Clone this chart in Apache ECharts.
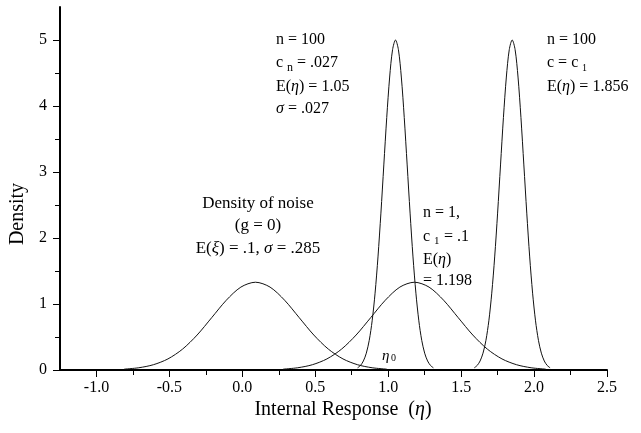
<!DOCTYPE html>
<html>
<head>
<meta charset="utf-8">
<script src="https://cdn.jsdelivr.net/npm/echarts@6/dist/echarts.min.js"></script>
<style>html,body{margin:0;padding:0;background:#fff}#c{width:641px;height:433px}</style>
</head>
<body>
<div id="c"></div>
<script>
// ---- data ----
var noiseX = [-0.81,-0.71,-0.61,-0.51,-0.41,-0.31,-0.21,-0.11,-0.01,0.09,0.19,0.29,0.39,0.49,0.59,0.69,0.79,0.89,0.99];
var noiseY = [0.013,0.034,0.080,0.168,0.316,0.530,0.793,1.057,1.256,1.33,1.256,1.057,0.793,0.530,0.316,0.168,0.080,0.034,0.013];

var n1X = [0.28,0.38,0.48,0.58,0.68,0.78,0.88,0.98,1.08,1.18,1.28,1.38,1.48,1.58,1.68,1.78,1.88,1.98,2.08];
var n1Y = [0.013,0.034,0.080,0.168,0.316,0.530,0.793,1.057,1.256,1.33,1.256,1.057,0.793,0.530,0.316,0.168,0.080,0.034,0.013];

var cnX = [0.79,0.81,0.83,0.85,0.87,0.89,0.91,0.93,0.95,0.97,0.99,1.01,1.03,1.05,1.07,1.09,1.11,1.13,1.15,1.17,1.19,1.21,1.23,1.25,1.27,1.29,1.31];
var cnY = [0.033,0.069,0.137,0.255,0.449,0.745,1.164,1.713,2.377,3.107,3.826,4.439,4.854,5.0,4.854,4.439,3.826,3.107,2.377,1.713,1.164,0.745,0.449,0.255,0.137,0.069,0.033];

var c1X = [1.59,1.61,1.63,1.65,1.67,1.69,1.71,1.73,1.75,1.77,1.79,1.81,1.83,1.85,1.87,1.89,1.91,1.93,1.95,1.97,1.99,2.01,2.03,2.05,2.07,2.09,2.11];
var c1Y = [0.033,0.069,0.137,0.255,0.449,0.745,1.164,1.713,2.377,3.107,3.826,4.439,4.854,5.0,4.854,4.439,3.826,3.107,2.377,1.713,1.164,0.745,0.449,0.255,0.137,0.069,0.033];

var xTicks = [-1.0,-0.5,0.0,0.5,1.0,1.5,2.0,2.5];
var xMinorTicks = [-0.75,-0.25,0.25,0.75,1.25,1.75,2.25];
var yTicks = [0,1,2,3,4,5];
var yMinorTicks = [0.5,1.5,2.5,3.5,4.5];

function zip(xs, ys){ return xs.map(function(x,i){ return [x, ys[i]]; }); }

var SERIF = '"Liberation Serif","DejaVu Serif",serif';
var chart = echarts.init(document.getElementById('c'), null, {renderer:'canvas'});

function line(d){
  return {type:'line', data:d, xAxisIndex:0, yAxisIndex:0, showSymbol:false, symbol:'none',
    smooth:0.3, lineStyle:{color:'#111', width:1}, silent:true, animation:false};
}
function txt(x,y,text,opts){
  opts = opts || {};
  return {type:'text', x:x, y:y, silent:true, rotation: opts.rotation || 0,
    style:{text:text, fill:'#000', font:(opts.italic?'italic ':'') + (opts.size||16) + 'px ' + SERIF,
      textAlign: opts.align || 'left', textVerticalAlign:'middle',
      rich: {i:{fontStyle:'italic', fontSize:(opts.size||16), fontFamily:SERIF}}}};
}

var axisBase = {type:'value', min:-1.25, max:2.5, splitLine:{show:false}};
var option = {
  animation:false,
  grid:{left:60, right:34, top:7, bottom:63, containLabel:false},
  xAxis:[
    Object.assign({}, axisBase, {
      position:'bottom',
      axisLine:{show:true, onZero:false, lineStyle:{color:'#000', width:2}},
      axisTick:{show:true, customValues:xTicks, length:7, lineStyle:{color:'#000', width:1}},
      axisLabel:{show:true, customValues:xTicks, margin:10, color:'#000', fontSize:16, fontFamily:SERIF,
        formatter:function(v){ return v.toFixed(1); }}
    }),
    Object.assign({}, axisBase, {
      position:'bottom',
      axisLine:{show:false, onZero:false},
      axisTick:{show:true, customValues:xMinorTicks, length:5, lineStyle:{color:'#000', width:1}},
      axisLabel:{show:false}
    })
  ],
  yAxis:[
    {type:'value', min:0, max:5.5, position:'left', splitLine:{show:false},
      axisLine:{show:true, onZero:false, lineStyle:{color:'#000', width:2}},
      axisTick:{show:true, customValues:yTicks, length:7, lineStyle:{color:'#000', width:1}},
      axisLabel:{show:true, customValues:yTicks, margin:13, color:'#000', fontSize:16, fontFamily:SERIF}
    },
    {type:'value', min:0, max:5.5, position:'left', splitLine:{show:false},
      axisLine:{show:false, onZero:false},
      axisTick:{show:true, customValues:yMinorTicks, length:5, lineStyle:{color:'#000', width:1}},
      axisLabel:{show:false}
    }
  ],
  series:[
    line(zip(noiseX, noiseY)),
    line(zip(n1X, n1Y)),
    line(zip(cnX, cnY)),
    line(zip(c1X, c1Y))
  ],
  graphic:[
    txt(18, 214, 'Density', {size:20, align:'center', rotation:Math.PI/2}),
    txt(343, 410, 'Internal Response  ({i|η})', {size:20, align:'center'}),

    txt(276, 40, 'n = 100'),
    txt(276, 63, 'c'),
    txt(287, 68, 'n', {size:12}),
    txt(297, 63, '= .027'),
    txt(276, 87, 'E({i|η}) = 1.05'),
    txt(276, 109, '{i|σ} = .027'),

    txt(547, 40, 'n = 100'),
    txt(547, 63, 'c = c'),
    txt(582, 68, '1', {size:10}),
    txt(547, 87, 'E({i|η}) = 1.856'),

    txt(258, 204, 'Density of noise', {size:17, align:'center'}),
    txt(258, 226, '(g = 0)', {size:17, align:'center'}),
    txt(258, 249, 'E({i|ξ}) = .1, {i|σ} = .285', {size:17, align:'center'}),

    txt(423, 213, 'n = 1,'),
    txt(423, 237, 'c'),
    txt(434, 241, '1', {size:11}),
    txt(444, 237, '= .1'),
    txt(423, 260, 'E({i|η})'),
    txt(423, 281, '= 1.198'),

    txt(382, 356, 'η', {size:15, italic:true}),
    txt(391, 358, '0', {size:10})
  ]
};
chart.setOption(option);
</script>
</body>
</html>
